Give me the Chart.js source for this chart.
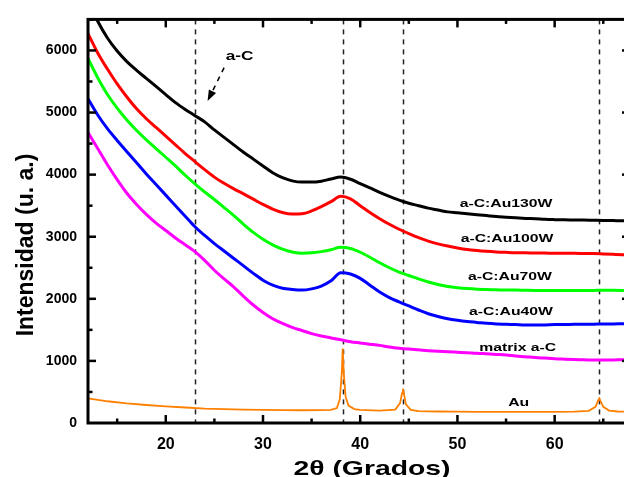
<!DOCTYPE html>
<html>
<head>
<meta charset="utf-8">
<script src="https://cdn.jsdelivr.net/npm/chart.js@4"></script>
<style>
  html, body { margin: 0; padding: 0; background: #fff; overflow: hidden; width: 624px; height: 477px; }
  canvas { display: block; }
</style>
</head>
<body>
<canvas id="chart" width="632" height="477"></canvas>
<script>
// 2θ sampling for the a-C films (degrees)
const twoTheta = [12, 13, 14, 15, 16, 17, 18, 19, 20, 21, 22, 23, 24, 25, 26, 27, 28, 29, 30, 31,
  32, 33, 34, 35, 36, 37, 38, 39, 40, 41, 42, 43, 44, 45, 46, 47, 48, 49, 50, 51,
  52, 53, 54, 55, 56, 57, 58, 59, 60, 61, 62, 63, 64, 65, 66, 67, 67.75];

const au130 = [6800, 6470, 6200, 5990, 5820, 5680, 5550, 5420, 5290, 5160, 5050, 4950, 4850, 4720, 4600, 4480, 4360, 4250, 4140, 4030,
  3950, 3900, 3880, 3880, 3895, 3930, 3960, 3925, 3855, 3785, 3715, 3650, 3590, 3540, 3500, 3460, 3430, 3400, 3385, 3370,
  3355, 3340, 3325, 3315, 3305, 3295, 3290, 3280, 3275, 3272, 3270, 3268, 3265, 3262, 3260, 3258, 3256];

const au100 = [6270, 5960, 5700, 5460, 5250, 5060, 4900, 4760, 4620, 4480, 4340, 4210, 4080, 3960, 3860, 3770, 3690, 3605, 3520, 3445,
  3390, 3365, 3370, 3415, 3485, 3565, 3650, 3610, 3500, 3390, 3290, 3200, 3120, 3050, 2985, 2930, 2885, 2850, 2820, 2795,
  2778, 2765, 2755, 2748, 2742, 2740, 2738, 2736, 2735, 2733, 2732, 2730, 2728, 2722, 2716, 2710, 2706];

const au70 = [5870, 5560, 5290, 5070, 4880, 4710, 4560, 4420, 4280, 4140, 3990, 3850, 3720, 3600, 3470, 3340, 3200, 3070, 2960, 2870,
  2800, 2755, 2735, 2740, 2760, 2790, 2830, 2810, 2750, 2670, 2580, 2500, 2430, 2375, 2320, 2270, 2230, 2200, 2180, 2165,
  2155, 2150, 2145, 2140, 2140, 2137, 2135, 2135, 2135, 2134, 2132, 2134, 2135, 2138, 2136, 2135, 2135];

const au40 = [5220, 4960, 4740, 4550, 4370, 4190, 4010, 3840, 3670, 3500, 3330, 3160, 3020, 2890, 2770, 2650, 2530, 2410, 2300, 2220,
  2170, 2150, 2140, 2160, 2205, 2290, 2420, 2400, 2330, 2220, 2110, 2020, 1950, 1885, 1820, 1760, 1715, 1680, 1655, 1635,
  1620, 1605, 1595, 1590, 1585, 1580, 1580, 1580, 1585, 1585, 1590, 1590, 1590, 1595, 1595, 1598, 1600];

const matrix = [4680, 4420, 4160, 3920, 3700, 3520, 3360, 3220, 3100, 2980, 2870, 2760, 2620, 2460, 2320, 2190, 2040, 1900, 1780, 1680,
  1605, 1540, 1490, 1440, 1400, 1370, 1340, 1310, 1290, 1270, 1250, 1225, 1205, 1190, 1178, 1165, 1155, 1148, 1140, 1132,
  1125, 1115, 1105, 1095, 1080, 1068, 1055, 1045, 1035, 1028, 1022, 1018, 1013, 1013, 1015, 1018, 1020];

// gold reference pattern, denser around the reflections
const auTheta = [12, 14, 16, 18, 20, 22, 24, 26, 28, 30, 32, 34, 36, 37, 37.6, 37.9, 38.1, 38.2, 38.3, 38.5, 38.8, 39.4, 40,
  42, 43.6, 44.1, 44.3, 44.4, 44.5, 44.7, 45.2, 46, 48, 50, 52, 54, 56, 58, 60, 62, 63.5, 64.2, 64.5, 64.6, 64.7, 65, 65.6, 66.5, 67.75];
const auRef = [396, 350, 316, 290, 269, 250, 232, 222, 215, 210, 206, 205, 206, 212, 240, 380, 800, 1200, 820, 420, 280, 225, 210,
  200, 215, 320, 480, 554, 470, 300, 210, 190, 185, 182, 180, 180, 180, 180, 180, 182, 195, 260, 370, 396, 360, 260, 200, 185, 182];

const xTickValues = [20, 30, 40, 50, 60];
const yTickValues = [0, 1000, 2000, 3000, 4000, 5000, 6000];
const peakLines = [23, 38.2, 44.4, 64.6];

const seriesNames = ["a-C:Au130W", "a-C:Au100W", "a-C:Au70W", "a-C:Au40W", "matrix a-C", "Au"];
const seriesColors = ["#000000", "#ff0000", "#00ff00", "#0000ff", "#ff00ff", "#ff8000"];
const labelX = [55.0, 55.1, 55.4, 55.5, 56.2, 56.3];
const labelY = [3481, 2911, 2310, 1741, 1155, 269];

const FONT = "'Liberation Sans', Arial, sans-serif";

function pts(xs, ys) {
  return xs.map((x, i) => ({ x, y: ys[i] }));
}

function stretchText(ctx, text, x, y, sx) {
  ctx.save();
  ctx.translate(x, y);
  ctx.scale(sx, 1);
  ctx.fillText(text, 0, 0);
  ctx.restore();
}

const frame = {
  id: "frame",
  beforeDatasetsDraw(chart) {
    const { ctx, chartArea: a, scales: { x } } = chart;
    ctx.save();
    ctx.strokeStyle = "#222";
    ctx.lineWidth = 1.5;
    ctx.setLineDash([5, 5]);
    peakLines.forEach((v) => {
      const px = Math.round(x.getPixelForValue(v)) + 0.5;
      ctx.beginPath();
      ctx.moveTo(px, a.top);
      ctx.lineTo(px, a.bottom);
      ctx.stroke();
    });
    ctx.restore();
  },
  afterDraw(chart) {
    const { ctx, chartArea: a, scales: { x, y } } = chart;
    ctx.save();
    ctx.strokeStyle = "#000";
    ctx.lineWidth = 3;
    ctx.strokeRect(a.left, a.top, a.right - a.left, a.bottom - a.top);

    // inward ticks, majors and minors
    ctx.lineWidth = 2.5;
    const tick = (x1, y1, x2, y2) => { ctx.beginPath(); ctx.moveTo(x1, y1); ctx.lineTo(x2, y2); ctx.stroke(); };
    for (let v = 15; v < 68; v += 5) {
      const px = x.getPixelForValue(v);
      const len = v % 10 === 0 ? 8 : 4.5;
      tick(px, a.bottom, px, a.bottom - len);
      tick(px, a.top, px, a.top + len);
    }
    for (let v = 500; v <= 6500; v += 500) {
      const py = y.getPixelForValue(v);
      const len = v % 1000 === 0 ? 8 : 4.5;
      tick(a.left, py, a.left + len, py);
      tick(a.right, py, a.right - len, py);
    }

    // series labels
    ctx.fillStyle = "#000";
    ctx.textAlign = "center";
    ctx.textBaseline = "alphabetic";
    ctx.font = `bold 10.5px ${FONT}`;
    seriesNames.forEach((name, i) => {
      stretchText(ctx, name, x.getPixelForValue(labelX[i]), y.getPixelForValue(labelY[i]), 1.5);
    });

    // a-C marker with dashed arrow
    ctx.font = `bold 12.5px ${FONT}`;
    stretchText(ctx, "a-C", x.getPixelForValue(27.6), y.getPixelForValue(5839), 1.38);
    const x0 = x.getPixelForValue(26.0), y0 = y.getPixelForValue(5723);
    const x1 = x.getPixelForValue(24.3), y1 = y.getPixelForValue(5184);
    const ang = Math.atan2(y1 - y0, x1 - x0);
    ctx.lineWidth = 1.5;
    ctx.setLineDash([5, 5]);
    ctx.beginPath();
    ctx.moveTo(x0, y0);
    ctx.lineTo(x1 - 9 * Math.cos(ang), y1 - 9 * Math.sin(ang));
    ctx.stroke();
    ctx.setLineDash([]);
    ctx.beginPath();
    ctx.moveTo(x1, y1);
    ctx.lineTo(x1 - 11 * Math.cos(ang) + 4 * Math.sin(ang), y1 - 11 * Math.sin(ang) - 4 * Math.cos(ang));
    ctx.lineTo(x1 - 11 * Math.cos(ang) - 4 * Math.sin(ang), y1 - 11 * Math.sin(ang) + 4 * Math.cos(ang));
    ctx.closePath();
    ctx.fill();

    // axis titles
    ctx.font = `bold 21px ${FONT}`;
    stretchText(ctx, "2θ (Grados)", 372, 475, 1.35);
    ctx.save();
    ctx.translate(33, 245);
    ctx.rotate(-Math.PI / 2);
    ctx.font = `bold 23px ${FONT}`;
    ctx.fillText("Intensidad (u. a.)", 0, 0);
    ctx.restore();
    ctx.restore();
  },
};

const noisy = { pointRadius: 0, borderWidth: 3, tension: 0.4, cubicInterpolationMode: "monotone", fill: false };

new Chart(document.getElementById("chart"), {
  type: "line",
  data: {
    datasets: [
      { label: seriesNames[0], data: pts(twoTheta, au130), borderColor: seriesColors[0], ...noisy },
      { label: seriesNames[1], data: pts(twoTheta, au100), borderColor: seriesColors[1], ...noisy },
      { label: seriesNames[2], data: pts(twoTheta, au70), borderColor: seriesColors[2], ...noisy },
      { label: seriesNames[3], data: pts(twoTheta, au40), borderColor: seriesColors[3], ...noisy },
      { label: seriesNames[4], data: pts(twoTheta, matrix), borderColor: seriesColors[4], ...noisy },
      { label: seriesNames[5], data: pts(auTheta, auRef), borderColor: seriesColors[5], pointRadius: 0, borderWidth: 1.8, tension: 0 },
    ],
  },
  options: {
    responsive: false,
    animation: false,
    layout: { padding: { top: 12, right: 2, left: 0, bottom: 0 } },
    plugins: { legend: { display: false }, tooltip: { enabled: false } },
    scales: {
      x: {
        type: "linear",
        min: 12,
        max: 67.75,
        grid: { display: false, drawTicks: false },
        border: { display: false },
        ticks: { color: "#000", padding: 12, font: { family: FONT, size: 16, weight: "bold" }, callback: (v) => String(v) },
        afterBuildTicks: (s) => { s.ticks = xTickValues.map((v) => ({ value: v })); },
        afterFit: (s) => { s.height = 54; },
      },
      y: {
        min: 0,
        max: 6500,
        grid: { display: false, drawTicks: false },
        border: { display: false },
        ticks: { color: "#000", padding: 11, font: { family: FONT, size: 14, weight: "bold" }, callback: (v) => String(v) },
        afterBuildTicks: (s) => { s.ticks = yTickValues.map((v) => ({ value: v })); },
        afterFit: (s) => { s.width = 88; },
      },
    },
  },
  plugins: [frame],
});
</script>
</body>
</html>
